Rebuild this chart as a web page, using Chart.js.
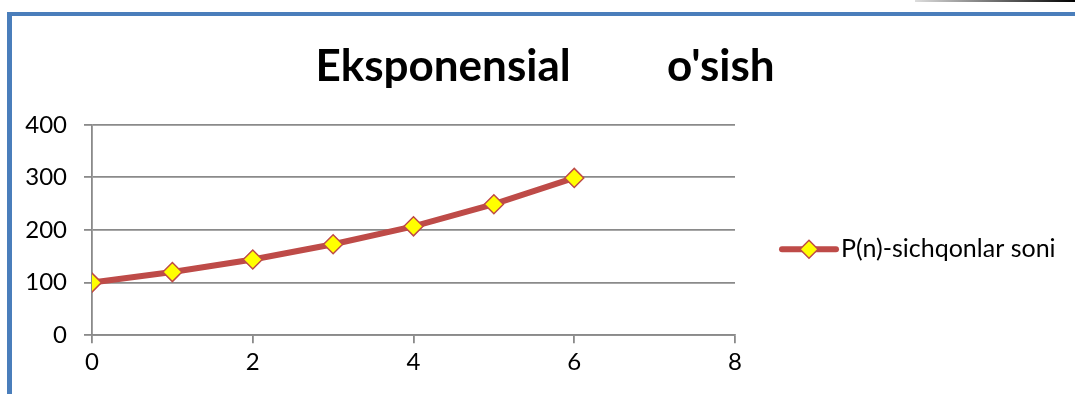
<!DOCTYPE html>
<html>
<head>
<meta charset="utf-8">
<script src="https://cdn.jsdelivr.net/npm/chart.js@4/dist/chart.umd.min.js"></script>
<style>
  html, body { margin: 0; padding: 0; background: #fff; }
  #wrap { position: relative; width: 1075px; height: 394px; overflow: hidden; }
  #frame { position: absolute; left: 7px; top: 12px; right: 0; bottom: 0;
           border-left: 5px solid #4a7ebb; border-top: 4px solid #4a7ebb; }
  #corner { position: absolute; left: 915px; top: 0; width: 160px; height: 2px;
            background: linear-gradient(to right, #ddd, #000); }
  #box { position: absolute; left: 0; top: 0; width: 1075px; height: 394px; }
</style>
</head>
<body>
<div id="wrap">
  <div id="frame"></div>
  <div id="corner"></div>
  <div id="box"><canvas id="chart" width="1075" height="394"></canvas></div>
</div>
<script>
// Population of mice by generation
var generations = [0, 1, 2, 3, 4, 5, 6];
var mice = [100, 120, 144, 173, 207, 249, 299];
var xTicks = [0, 2, 4, 6, 8];
var yTicks = [0, 100, 200, 300, 400];

var lineColor = '#be4b48';
var markerFill = '#ffff00';
var gridColor = '#8a8a8a';
var font = 'Lato';

// legend on the right: a short line with the diamond marker, then the series name
var sideLegend = {
    id: 'sideLegend',
    afterDraw: function (chart) {
        var ds = chart.data.datasets[0];
        var c = chart.ctx;
        var x0 = chart.chartArea.right + 47;
        var y = chart.chartArea.bottom - 86;
        c.save();
        c.strokeStyle = lineColor;
        c.lineWidth = 6;
        c.lineCap = 'round';
        c.beginPath();
        c.moveTo(x0, y);
        c.lineTo(x0 + 54, y);
        c.stroke();
        c.fillStyle = markerFill;
        c.lineWidth = 1.5;
        Chart.helpers.drawPoint(c, { pointStyle: 'rectRot', radius: 9, borderWidth: 1.5, rotation: 0 }, x0 + 27, y);
        c.fillStyle = '#000';
        c.font = '25px ' + font;
        c.textAlign = 'left';
        c.textBaseline = 'middle';
        c.fillText(ds.label, x0 + 59, y);
        c.restore();
    }
};

function draw() {
    var points = generations.map(function (n, i) { return { x: n, y: mice[i] }; });

    var ctx = document.getElementById('chart').getContext('2d');
    new Chart(ctx, {
        type: 'scatter',
        data: {
            datasets: [{
                label: 'P(n)-sichqonlar soni',
                data: points,
                showLine: true,
                borderColor: lineColor,
                borderWidth: 6,
                pointStyle: 'rectRot',
                pointRadius: 9.5,
                pointHoverRadius: 9.5,
                pointBackgroundColor: markerFill,
                pointBorderColor: lineColor,
                pointBorderWidth: 1.5
            }]
        },
        plugins: [sideLegend],
        options: {
            responsive: false,
            animation: false,
            layout: { padding: { left: 25, right: 10, top: 40, bottom: 12 } },
            plugins: {
                tooltip: { enabled: false },
                legend: { display: false },
                title: {
                    display: true,
                    text: 'Eksponensial         o\'sish',
                    color: '#000',
                    font: { family: font, size: 44, weight: 'bold' },
                    padding: { top: 0, bottom: 32 }
                }
            },
            scales: {
                x: {
                    type: 'linear',
                    min: 0,
                    max: 8,
                    afterBuildTicks: function (axis) { axis.ticks = xTicks.map(function (v) { return { value: v }; }); },
                    ticks: { color: '#000', font: { family: font, size: 24 }, padding: 5, maxRotation: 0 },
                    grid: { drawOnChartArea: false, drawTicks: true, tickLength: 8, color: gridColor, lineWidth: 1.8 },
                    border: { color: gridColor, width: 1.8 }
                },
                y: {
                    min: 0,
                    max: 400,
                    afterBuildTicks: function (axis) { axis.ticks = yTicks.map(function (v) { return { value: v }; }); },
                    afterFit: function (axis) { axis.width = 67; },
                    ticks: { color: '#000', font: { family: font, size: 24 }, padding: 17 },
                    grid: { color: gridColor, lineWidth: 1.8, tickLength: 8 },
                    border: { color: gridColor, width: 1.8 }
                },
                // empty right-hand axis that keeps room for the legend
                legendRoom: {
                    position: 'right',
                    ticks: { display: false },
                    grid: { display: false },
                    border: { display: false },
                    afterFit: function (axis) { axis.width = 330; }
                }
            }
        }
    });
}

// make sure the fonts are ready before Chart.js measures any text
Promise.all([
    document.fonts.load('bold 44px Lato'),
    document.fonts.load('24px Lato'),
    document.fonts.load('25px Lato')
]).then(draw, draw);
</script>
</body>
</html>
